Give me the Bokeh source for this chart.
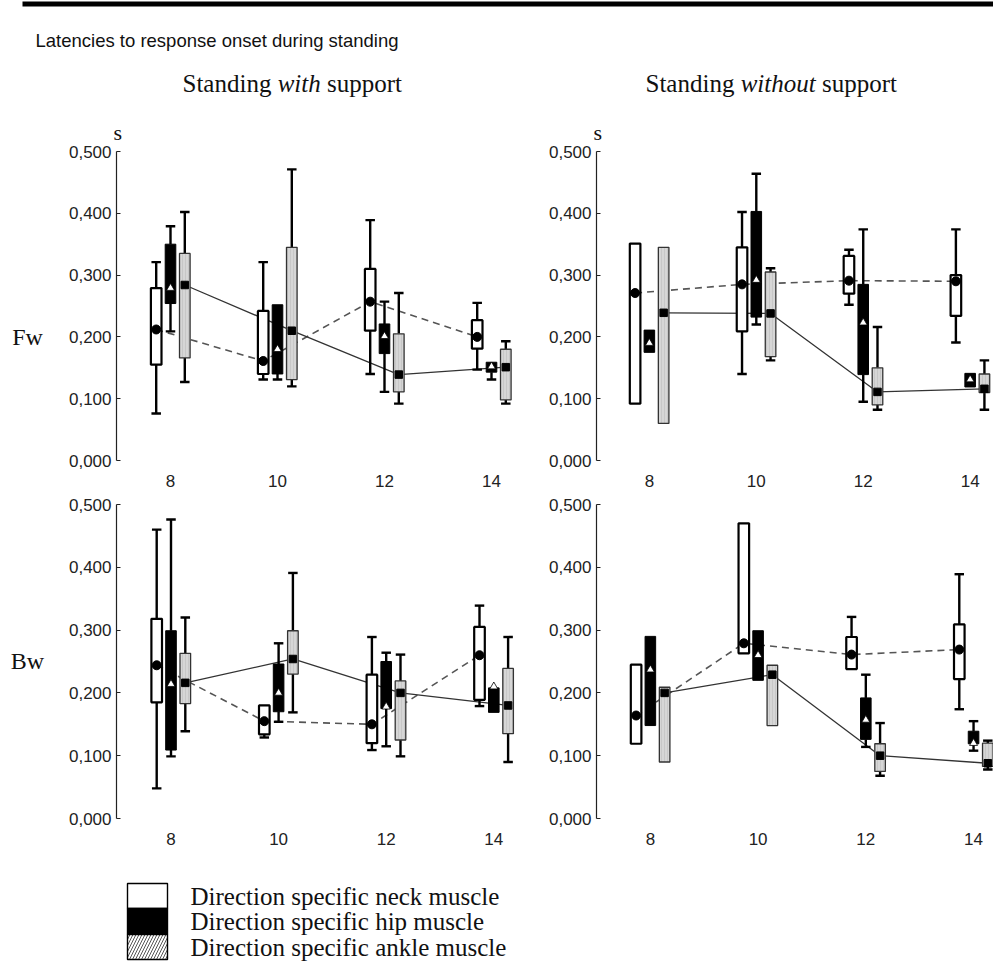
from bokeh.plotting import figure
from bokeh.models import ColumnDataSource, Range1d, FixedTicker, CustomJSTickFormatter, Title
from bokeh.transform import dodge
from bokeh.layouts import row, column
from bokeh.embed import file_html
from bokeh.resources import INLINE
from bokeh.core.properties import value

NaN = float("nan")

# ---------------- data ----------------
ages = [8, 10, 12, 14]
x_tick_labels = ["8", "10", "12", "14"]
y_ticks = [0.0, 0.1, 0.2, 0.3, 0.4, 0.5]
y_tick_labels = ["0,000", "0,100", "0,200", "0,300", "0,400", "0,500"]
chart_title = "Latencies to response onset during standing"
col_title_left = ["Standing", "with", "support"]
col_title_right = ["Standing", "without", "support"]
row_titles = ["Fw", "Bw"]
unit_label = "s"
legend_labels = ["Direction specific neck muscle",
                 "Direction specific hip muscle",
                 "Direction specific ankle muscle"]

# Fw, standing with support
fw_with_neck_whi = [0.321, 0.321, 0.389, 0.255]
fw_with_neck_q3 = [0.279, 0.242, 0.310, 0.227]
fw_with_neck_q1 = [0.155, 0.140, 0.210, 0.181]
fw_with_neck_wlo = [0.076, 0.131, 0.140, 0.147]
fw_with_neck_mark = [0.212, 0.161, 0.257, 0.200]
fw_with_hip_whi = [0.379, NaN, 0.257, NaN]
fw_with_hip_q3 = [0.350, 0.252, 0.221, 0.159]
fw_with_hip_q1 = [0.254, 0.140, 0.173, 0.143]
fw_with_hip_wlo = [0.209, 0.131, 0.111, 0.131]
fw_with_hip_mark = [0.279, 0.180, 0.201, 0.152]
fw_with_ankle_whi = [0.402, 0.471, 0.271, 0.193]
fw_with_ankle_q3 = [0.335, 0.345, 0.205, 0.180]
fw_with_ankle_q1 = [0.166, 0.131, 0.111, 0.098]
fw_with_ankle_wlo = [0.127, 0.120, 0.092, 0.092]
fw_with_ankle_mark = [0.284, 0.210, 0.139, 0.151]

# Fw, standing without support
fw_without_neck_whi = [NaN, 0.402, 0.341, 0.374]
fw_without_neck_q3 = [0.351, 0.345, 0.331, 0.300]
fw_without_neck_q1 = [0.092, 0.209, 0.270, 0.234]
fw_without_neck_wlo = [NaN, 0.140, 0.252, 0.191]
fw_without_neck_mark = [0.271, 0.285, 0.291, 0.290]
fw_without_hip_whi = [NaN, 0.464, 0.374, NaN]
fw_without_hip_q3 = [0.211, 0.403, 0.285, 0.141]
fw_without_hip_q1 = [0.175, 0.232, 0.139, 0.119]
fw_without_hip_wlo = [NaN, 0.220, 0.095, NaN]
fw_without_hip_mark = [0.190, 0.292, 0.223, 0.131]
fw_without_ankle_whi = [NaN, 0.311, 0.216, 0.162]
fw_without_ankle_q3 = [0.345, 0.305, 0.150, 0.140]
fw_without_ankle_q1 = [0.060, 0.168, 0.090, 0.110]
fw_without_ankle_wlo = [NaN, 0.162, 0.082, 0.082]
fw_without_ankle_mark = [0.239, 0.238, 0.111, 0.116]

# Bw, standing with support
bw_with_neck_whi = [0.460, NaN, 0.289, 0.339]
bw_with_neck_q3 = [0.318, 0.180, 0.229, 0.305]
bw_with_neck_q1 = [0.185, 0.134, 0.120, 0.189]
bw_with_neck_wlo = [0.048, 0.129, 0.109, 0.179]
bw_with_neck_mark = [0.244, 0.155, 0.150, 0.260]
bw_with_hip_whi = [0.476, 0.279, 0.264, NaN]
bw_with_hip_q3 = [0.299, 0.246, 0.250, 0.208]
bw_with_hip_q1 = [0.109, 0.170, 0.175, 0.169]
bw_with_hip_wlo = [0.099, 0.154, 0.115, NaN]
bw_with_hip_mark = [0.214, 0.200, 0.178, 0.210]
bw_with_ankle_whi = [0.320, 0.391, 0.261, 0.289]
bw_with_ankle_q3 = [0.263, 0.299, 0.219, 0.239]
bw_with_ankle_q1 = [0.183, 0.230, 0.125, 0.135]
bw_with_ankle_wlo = [0.139, 0.169, 0.099, 0.090]
bw_with_ankle_mark = [0.216, 0.254, 0.200, 0.180]

# Bw, standing without support
bw_without_neck_whi = [NaN, NaN, 0.321, 0.389]
bw_without_neck_q3 = [0.245, 0.470, 0.289, 0.309]
bw_without_neck_q1 = [0.119, 0.263, 0.238, 0.222]
bw_without_neck_wlo = [NaN, NaN, NaN, 0.174]
bw_without_neck_mark = [0.164, 0.279, 0.261, 0.269]
bw_without_hip_whi = [NaN, NaN, 0.229, 0.155]
bw_without_hip_q3 = [0.290, 0.299, 0.192, 0.139]
bw_without_hip_q1 = [0.148, 0.220, 0.126, 0.119]
bw_without_hip_wlo = [NaN, NaN, 0.114, 0.108]
bw_without_hip_mark = [0.237, 0.260, 0.157, 0.120]
bw_without_ankle_whi = [NaN, NaN, 0.152, 0.124]
bw_without_ankle_q3 = [0.209, 0.244, 0.119, 0.120]
bw_without_ankle_q1 = [0.090, 0.148, 0.075, 0.083]
bw_without_ankle_wlo = [NaN, NaN, 0.068, 0.078]
bw_without_ankle_mark = [0.200, 0.229, 0.100, 0.088]

# ---------------- styles ----------------
SANS = "Liberation Sans"
SERIF = "Liberation Serif"
GRAY = "#d6d6d6"
INK = "#111111"


def src(whi, q3, q1, wlo, mark):
    return ColumnDataSource(dict(age=ages, whi=whi, q3=q3, q1=q1, wlo=wlo, mark=mark))


def fmt(tvals, tlabels):
    return CustomJSTickFormatter(args=dict(tvals=tvals, tlabels=tlabels), code="""
        let b = 0;
        for (let i = 0; i < tvals.length; i++) {
            if (Math.abs(tvals[i] - tick) < Math.abs(tvals[b] - tick)) b = i;
        }
        return tlabels[b];
    """)


def panel(width, height, mbl, mbr, mbt, mbb, left_px, ppu, neck, hip, ankle, unit=None):
    frame_w = width - mbl - mbr
    x0 = ages[0] - left_px / ppu
    p = figure(width=width, height=height,
               x_range=Range1d(x0, x0 + frame_w / ppu), y_range=Range1d(0, 0.5),
               output_backend="svg", toolbar_location=None,
               min_border_left=mbl, min_border_right=mbr,
               min_border_top=mbt, min_border_bottom=mbb)
    p.outline_line_color = None
    p.grid.visible = False
    p.background_fill_color = "white"
    p.border_fill_color = "white"

    ya = p.yaxis[0]
    ya.ticker = FixedTicker(ticks=y_ticks)
    ya.formatter = fmt(y_ticks, y_tick_labels)
    ya.major_tick_in = 4
    ya.major_tick_out = 0
    ya.minor_tick_line_color = None
    ya.axis_line_color = "#222222"
    ya.axis_line_width = 1.2
    ya.major_tick_line_color = "#222222"
    ya.major_tick_line_width = 1.2
    ya.major_label_text_font = SANS
    ya.major_label_text_font_size = "17px"
    ya.major_label_text_color = "#222222"
    ya.major_label_standoff = 5

    xa = p.xaxis[0]
    xa.ticker = FixedTicker(ticks=ages)
    xa.formatter = fmt(ages, x_tick_labels)
    xa.axis_line_color = None
    xa.major_tick_line_color = None
    xa.minor_tick_line_color = None
    xa.major_label_text_font = SANS
    xa.major_label_text_font_size = "17px"
    xa.major_label_text_color = "#222222"
    xa.major_label_standoff = 8

    if unit is not None:
        p.add_layout(Title(text=unit, align="left", offset=-3, standoff=14,
                           text_font=SERIF, text_font_size="22px",
                           text_font_style="normal", text_color=INK), "above")

    off = 14.3 / ppu
    bw = 10.6 / ppu
    cw = 9.5 / ppu
    s_neck, s_hip, s_ankle = src(*neck), src(*hip), src(*ankle)

    # connecting lines (drawn below boxes)
    p.line(x=dodge("age", -off), y="mark", source=s_neck, line_color="#555555",
           line_width=1.6, line_dash="7 5")
    p.line(x=dodge("age", off), y="mark", source=s_ankle, line_color="#333333",
           line_width=1.3)

    for s, o, fill, lc, lw in ((s_neck, -off, "white", "black", 2.2),
                               (s_hip, 0.0, "black", "black", 1.0),
                               (s_ankle, off, GRAY, "#333333", 1.3)):
        p.segment(x0=dodge("age", o), y0="q3", x1=dodge("age", o), y1="whi",
                  source=s, line_color="black", line_width=2.4)
        p.segment(x0=dodge("age", o), y0="wlo", x1=dodge("age", o), y1="q1",
                  source=s, line_color="black", line_width=2.4)
        p.segment(x0=dodge("age", o - cw / 2), y0="whi", x1=dodge("age", o + cw / 2),
                  y1="whi", source=s, line_color="black", line_width=2.4)
        p.segment(x0=dodge("age", o - cw / 2), y0="wlo", x1=dodge("age", o + cw / 2),
                  y1="wlo", source=s, line_color="black", line_width=2.4)
        if fill == GRAY:
            p.vbar(x=dodge("age", o), width=bw, bottom="q1", top="q3", source=s,
                   fill_color=fill, line_color=lc, line_width=lw,
                   hatch_pattern="vertical_line", hatch_color="#bdbdbd",
                   hatch_scale=3, hatch_weight=0.6)
        else:
            p.vbar(x=dodge("age", o), width=bw, bottom="q1", top="q3", source=s,
                   fill_color=fill, line_color=lc, line_width=lw)

    p.scatter(x=dodge("age", -off), y="mark", source=s_neck, marker="circle",
              size=9, fill_color="black", line_color="black")
    p.scatter(x=dodge("age", 0.0), y="mark", source=s_hip, marker="triangle",
              size=8, fill_color="white", line_color="black", line_width=0.8)
    p.scatter(x=dodge("age", off), y="mark", source=s_ankle, marker="square",
              size=7.5, fill_color="black", line_color="black")
    return p


def deco(x0, x1, y0, y1):
    p = figure(width=int(x1 - x0), height=int(y1 - y0),
               x_range=Range1d(x0, x1), y_range=Range1d(y1, y0),
               x_axis_type=None, y_axis_type=None, output_backend="svg",
               toolbar_location=None, min_border=0)
    p.outline_line_color = None
    p.grid.visible = False
    p.background_fill_color = "white"
    p.border_fill_color = "white"
    return p


# ---------------- header ----------------
head = deco(0, 993, 0, 105)
head.quad(left=[22], right=[993], top=[1], bottom=[6], fill_color="black", line_color=None)
head.text(x=[35], y=[40], text=[chart_title], text_font=value(SANS),
          text_font_size="18.5px", text_color=INK, text_baseline="alphabetic")
fs = "25px"
for (w1, w2, w3), xs in ((col_title_left, (182, 277.2, 326.5)),
                         (col_title_right, (645, 740.2, 821.4))):
    head.text(x=[xs[0]], y=[83], text=[w1], text_font=value(SERIF), text_font_size=fs,
              text_color=INK, text_baseline="alphabetic")
    head.text(x=[xs[1]], y=[83], text=[w2], text_font=value(SERIF), text_font_size=fs,
              text_font_style="italic", text_color=INK, text_baseline="alphabetic")
    head.text(x=[xs[2]], y=[83], text=[w3], text_font=value(SERIF), text_font_size=fs,
              text_color=INK, text_baseline="alphabetic")

# ---------------- rows ----------------
lab1 = deco(0, 60, 105, 490)
lab1.text(x=[27], y=[336], text=[row_titles[0]], text_font=value(SERIF),
          text_font_size="24px", text_color=INK, text_align="center",
          text_baseline="alphabetic")
lab2 = deco(0, 60, 490, 847)
lab2.text(x=[27], y=[668], text=[row_titles[1]], text_font=value(SERIF),
          text_font_size="24px", text_color=INK, text_align="center",
          text_baseline="alphabetic")

tl = panel(485, 385, 56, 15, 46, 30, 54.0, 53.5,
           (fw_with_neck_whi, fw_with_neck_q3, fw_with_neck_q1, fw_with_neck_wlo, fw_with_neck_mark),
           (fw_with_hip_whi, fw_with_hip_q3, fw_with_hip_q1, fw_with_hip_wlo, fw_with_hip_mark),
           (fw_with_ankle_whi, fw_with_ankle_q3, fw_with_ankle_q1, fw_with_ankle_wlo, fw_with_ankle_mark),
           unit=unit_label)
tr = panel(448, 385, 50, 0, 46, 30, 53.0, 53.6,
           (fw_without_neck_whi, fw_without_neck_q3, fw_without_neck_q1, fw_without_neck_wlo, fw_without_neck_mark),
           (fw_without_hip_whi, fw_without_hip_q3, fw_without_hip_q1, fw_without_hip_wlo, fw_without_hip_mark),
           (fw_without_ankle_whi, fw_without_ankle_q3, fw_without_ankle_q1, fw_without_ankle_wlo, fw_without_ankle_mark),
           unit=unit_label)
bl = panel(485, 357, 56, 15, 14, 29, 54.5, 53.8,
           (bw_with_neck_whi, bw_with_neck_q3, bw_with_neck_q1, bw_with_neck_wlo, bw_with_neck_mark),
           (bw_with_hip_whi, bw_with_hip_q3, bw_with_hip_q1, bw_with_hip_wlo, bw_with_hip_mark),
           (bw_with_ankle_whi, bw_with_ankle_q3, bw_with_ankle_q1, bw_with_ankle_wlo, bw_with_ankle_mark))
br = panel(448, 357, 50, 0, 14, 29, 54.0, 54.0,
           (bw_without_neck_whi, bw_without_neck_q3, bw_without_neck_q1, bw_without_neck_wlo, bw_without_neck_mark),
           (bw_without_hip_whi, bw_without_hip_q3, bw_without_hip_q1, bw_without_hip_wlo, bw_without_hip_mark),
           (bw_without_ankle_whi, bw_without_ankle_q3, bw_without_ankle_q1, bw_without_ankle_wlo, bw_without_ankle_mark))

# ---------------- legend ----------------
leg = deco(0, 993, 847, 961)
tops = [883, 908, 934]
bots = [908, 934, 959]
leg.quad(left=[127], right=[167], top=[tops[0]], bottom=[bots[0]], fill_color="white",
         line_color="black", line_width=1.4)
leg.quad(left=[127], right=[167], top=[tops[1]], bottom=[bots[1]], fill_color="black",
         line_color="black", line_width=1.4)
leg.quad(left=[127], right=[167], top=[tops[2]], bottom=[bots[2]], fill_color="white",
         line_color="black", line_width=1.4, hatch_pattern="/", hatch_color="#555555",
         hatch_scale=6, hatch_weight=1)
leg.text(x=[190, 190, 190], y=[(t + b) / 2 for t, b in zip(tops, bots)], text=legend_labels,
         text_font=value(SERIF), text_font_size="25px", text_color=INK,
         text_baseline="middle")

layout = column(head, row(lab1, tl, tr), row(lab2, bl, br), leg)
open("out.html", "w").write(file_html(layout, INLINE))
